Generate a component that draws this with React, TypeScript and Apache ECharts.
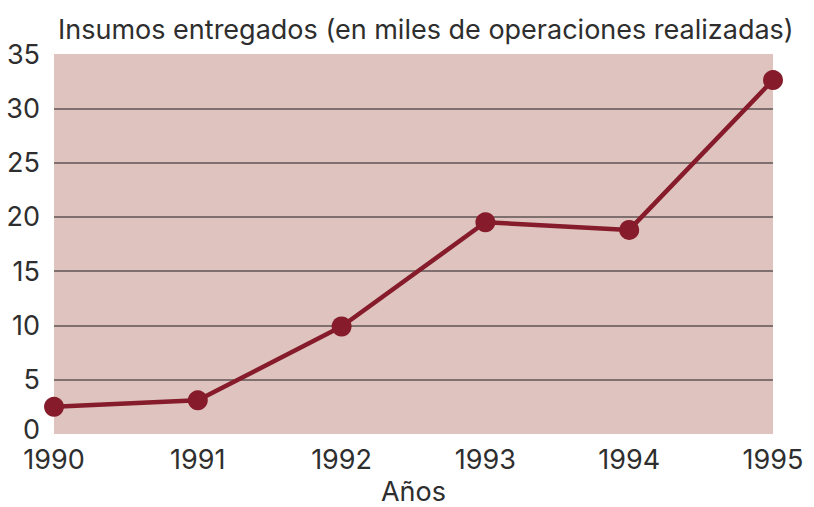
import React, { useEffect, useRef } from "react";
import * as echarts from "echarts";

const years = ["1990", "1991", "1992", "1993", "1994", "1995"];
const insumos = [2.5, 3.1, 9.9, 19.5, 18.8, 32.6];
const yTicks = { min: 0, max: 35, interval: 5 };
const titleText = "Insumos entregados (en miles de operaciones realizadas)";
const xName = "Años";

export default function App() {
  const ref = useRef<HTMLDivElement>(null);
  useEffect(() => {
    if (!ref.current) return;
    const chart = echarts.init(ref.current, undefined, { renderer: "svg" });
    const font = "Inter, 'Open Sans', sans-serif";
    const txt = "#2e2e2e";
    const fs = 27;
    chart.setOption({
      animation: false,
      title: {
        text: titleText,
        left: 53,
        top: 11,
        textStyle: { fontFamily: font, fontSize: fs, fontWeight: "normal", color: txt },
      },
      grid: {
        left: 54,
        right: 41,
        top: 54,
        bottom: 73,
        show: true,
        backgroundColor: "#DEC3BE",
        borderWidth: 0,
        containLabel: false,
        outerBoundsMode: "none",
      },
      xAxis: {
        type: "category",
        data: years,
        boundaryGap: false,
        axisLine: { show: false },
        axisTick: { show: false },
        axisLabel: { fontFamily: font, fontSize: fs, color: txt, margin: 12 },
        name: xName,
        nameLocation: "middle",
        nameGap: 57,
        nameTextStyle: { fontFamily: font, fontSize: fs, color: txt, verticalAlign: "middle", lineHeight: 27 },
      },
      yAxis: {
        type: "value",
        min: yTicks.min,
        max: yTicks.max,
        interval: yTicks.interval,
        axisLine: { show: false },
        axisTick: { show: false },
        axisLabel: {
          fontFamily: font,
          fontSize: fs,
          color: txt,
          margin: 14,
          formatter: (v: number) => (v === 0 ? "{z|0}" : String(v)),
          rich: { z: { fontFamily: font, fontSize: fs, color: txt, padding: [0, 0, 10, 0] } },
        },
        splitLine: {
          show: true,
          lineStyle: { color: "#5f5555", width: 1.5 },
          showMinLine: false,
          showMaxLine: false,
        },
      },
      series: [
        {
          type: "line",
          data: insumos,
          symbol: "circle",
          symbolSize: 20,
          lineStyle: { color: "#861B2B", width: 4.5 },
          itemStyle: { color: "#861B2B" },
          z: 5,
        },
      ],
    });
    return () => chart.dispose();
  }, []);
  return (
    <div style={{ position: "absolute", left: 0, top: 0 }}>
      <div ref={ref} style={{ width: 814, height: 507 }} />
    </div>
  );
}
